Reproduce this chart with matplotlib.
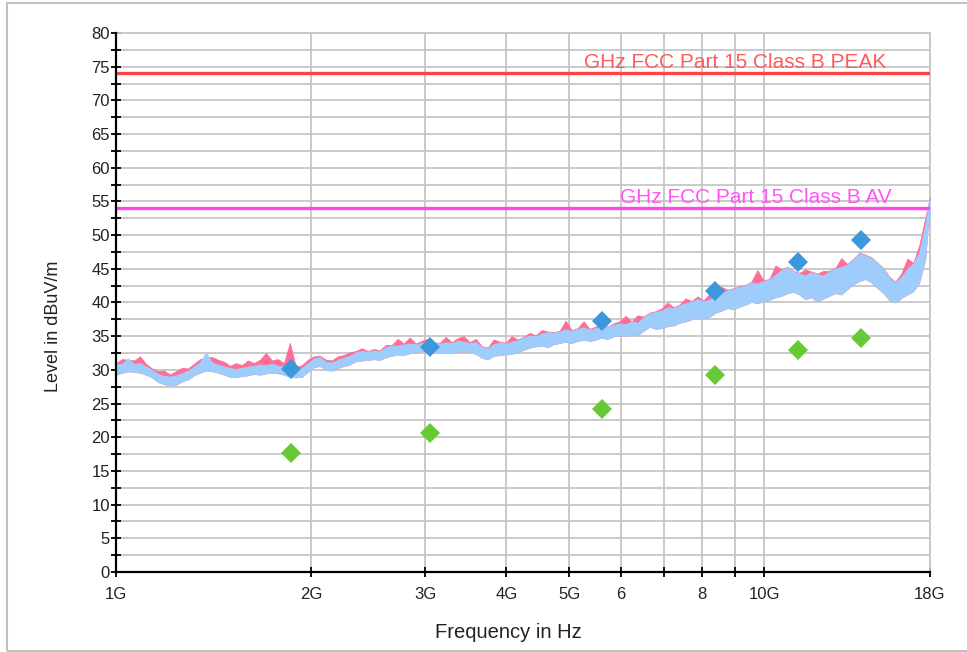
import matplotlib.pyplot as plt
import matplotlib.transforms as mtransforms
from matplotlib.patches import Rectangle
from matplotlib.ticker import MultipleLocator, NullLocator

plt.rcParams["font.family"] = ["Liberation Sans", "DejaVu Sans"]

# ===== Data =====
# Frequency points of the scan traces, in GHz
FREQ_GHZ = [
    1.000, 1.0215, 1.0435, 1.066, 1.089, 1.112, 1.136, 1.161, 1.186, 1.211,
    1.237, 1.264, 1.291, 1.319, 1.347, 1.376, 1.406, 1.436, 1.467, 1.499,
    1.531, 1.564, 1.597, 1.632, 1.667, 1.703, 1.739, 1.777, 1.815, 1.854,
    1.894, 1.935, 1.976, 2.019, 2.062, 2.107, 2.152, 2.198, 2.246, 2.294,
    2.343, 2.394, 2.445, 2.498, 2.551, 2.606, 2.662, 2.720, 2.778, 2.838,
    2.899, 2.961, 3.025, 3.090, 3.157, 3.225, 3.294, 3.365, 3.437, 3.511,
    3.587, 3.664, 3.743, 3.823, 3.906, 3.990, 4.075, 4.163, 4.253, 4.344,
    4.438, 4.533, 4.631, 4.730, 4.832, 4.936, 5.042, 5.151, 5.261, 5.375,
    5.490, 5.608, 5.729, 5.852, 5.978, 6.107, 6.238, 6.372, 6.509, 6.649,
    6.792, 6.938, 7.088, 7.240, 7.396, 7.555, 7.718, 7.884, 8.053, 8.226,
    8.403, 8.584, 8.769, 8.957, 9.150, 9.347, 9.548, 9.753, 9.963, 10.18,
    10.40, 10.62, 10.85, 11.08, 11.32, 11.56, 11.81, 12.07, 12.33, 12.59,
    12.86, 13.14, 13.42, 13.71, 14.01, 14.31, 14.62, 14.93, 15.25, 15.58,
    15.92, 16.26, 16.61, 16.97, 17.33, 17.70, 17.85, 18.0,
]
# Light blue trace: lower and upper edge of the noisy band, dBuV/m
BLUE_LOW = [
    29.3, 29.6, 29.8, 29.7, 29.6, 29.3, 28.9, 28.2, 27.9, 27.7,
    27.8, 28.3, 28.6, 29.2, 29.6, 29.9, 29.8, 29.6, 29.3, 29.0,
    28.9, 29.1, 29.2, 29.4, 29.3, 29.5, 29.6, 29.5, 29.3, 29.0,
    28.9, 29.0, 29.7, 30.4, 30.6, 30.0, 29.9, 30.3, 30.6, 30.8,
    31.3, 31.4, 31.5, 31.6, 31.5, 31.9, 32.1, 32.3, 32.2, 32.5,
    32.6, 32.8, 32.9, 32.7, 32.5, 32.6, 32.5, 32.7, 32.8, 32.6,
    32.4, 31.8, 31.6, 32.1, 32.2, 32.3, 32.4, 32.6, 33.0, 33.3,
    33.5, 33.6, 33.4, 33.8, 34.0, 34.2, 34.0, 34.3, 34.5, 34.3,
    34.5, 34.8, 34.6, 35.0, 35.1, 35.0, 35.3, 35.2, 35.8, 36.4,
    36.1, 36.2, 36.5, 36.6, 37.0, 37.2, 37.5, 37.8, 37.6, 37.9,
    38.5, 38.8, 39.2, 39.0, 39.4, 39.7, 40.1, 39.9, 40.2, 40.4,
    40.8, 41.0, 41.4, 41.6, 41.2, 40.5, 40.8, 40.2, 40.6, 41.0,
    41.4, 41.2, 42.0, 42.7, 43.2, 43.5, 43.0, 42.2, 41.4, 40.4,
    40.0, 40.7, 41.2, 41.7, 43.0, 46.5, 51.0, 53.2,
]
BLUE_HIGH = [
    30.8, 30.9, 31.7, 30.9, 31.0, 30.5, 30.0, 29.4, 29.1, 29.0,
    29.2, 29.5, 29.9, 30.5, 31.1, 32.6, 31.1, 30.8, 30.5, 30.3,
    30.1, 30.3, 30.5, 30.6, 30.8, 30.7, 30.9, 30.6, 30.5, 30.1,
    30.0, 30.3, 31.0, 31.7, 31.9, 31.2, 31.1, 31.5, 31.8, 32.1,
    32.6, 32.8, 32.7, 32.9, 32.8, 33.4, 33.6, 33.6, 33.8, 33.9,
    33.8, 34.0, 34.1, 34.0, 33.9, 34.1, 34.0, 34.3, 34.2, 34.0,
    34.1, 33.4, 33.2, 33.8, 34.1, 33.9, 34.2, 34.4, 34.8, 35.1,
    35.0, 35.4, 35.6, 35.5, 35.7, 36.0, 35.8, 36.1, 36.3, 36.0,
    36.2, 36.5, 36.4, 36.7, 36.9, 36.8, 37.2, 37.0, 37.8, 38.4,
    38.6, 38.8, 39.3, 39.2, 39.6, 39.9, 40.1, 40.5, 40.2, 40.4,
    41.0, 41.4, 41.8, 42.0, 42.3, 42.5, 43.0, 42.8, 43.2, 43.4,
    44.1, 44.8, 45.2, 44.6, 44.3, 44.0, 44.5, 44.2, 44.0, 44.6,
    45.0, 45.3, 45.6, 46.4, 47.3, 47.0, 46.6, 45.8, 45.0, 43.7,
    43.0, 43.8, 45.0, 45.8, 47.5, 51.5, 54.0, 55.3,
]
# Pink trace: upper edge (the part that shows above the blue band)
PINK_HIGH = [
    31.0, 31.6, 31.5, 31.4, 32.0, 30.9, 30.2, 29.8, 29.9, 29.3,
    29.8, 30.3, 30.2, 30.9, 31.6, 31.8, 31.9, 31.5, 31.2, 30.6,
    31.0, 30.7, 31.4, 31.0, 31.5, 32.5, 31.4, 31.6, 31.0, 34.0,
    30.4, 30.7, 31.5, 32.0, 32.1, 31.5, 31.4, 32.0, 32.2, 32.6,
    32.8, 33.2, 32.8, 33.1, 32.9, 33.7, 33.7, 34.6, 33.9, 34.8,
    33.9, 34.3, 34.6, 34.1, 34.0, 34.9, 34.1, 34.7, 35.0, 34.1,
    34.6, 33.5, 33.3, 34.5, 34.2, 34.0, 35.0, 34.5, 34.9, 35.5,
    35.1, 35.9, 35.7, 35.6, 35.8, 37.3, 35.9, 36.2, 37.2, 36.1,
    36.4, 37.1, 36.4, 36.9, 37.2, 38.0, 37.2, 38.1, 37.9, 38.5,
    38.7, 39.1, 40.0, 39.3, 39.7, 40.6, 40.2, 40.9, 40.3, 41.3,
    41.1, 42.3, 41.9, 42.1, 42.4, 42.6, 43.1, 44.8, 43.3, 43.5,
    45.5, 44.9, 45.3, 44.7, 44.4, 44.9, 44.6, 44.3, 44.7, 44.7,
    45.1, 46.6, 45.7, 46.5, 47.4, 47.1, 46.7, 45.9, 45.1, 43.8,
    43.1, 44.3, 46.5, 45.9, 48.5, 52.5, 54.2, 55.6,
]

# Final measurements (diamonds)
FINAL_FREQ_GHZ = [1.862, 3.05, 5.62, 8.39, 11.26, 14.08]
FINAL_PEAK = [30.2, 33.4, 37.3, 41.7, 46.0, 49.3]
FINAL_AV = [17.6, 20.7, 24.2, 29.2, 33.0, 34.7]

# Limit lines
LIMIT_PEAK = 74
LIMIT_AV = 54
LIMIT_PEAK_LABEL = "GHz FCC Part 15 Class B PEAK"
LIMIT_AV_LABEL = "GHz FCC Part 15 Class B AV"

# Axis ticks
X_TICKS = [1, 2, 3, 4, 5, 6, 7, 8, 9, 10, 18]
X_TICK_LABELS = ["1G", "2G", "3G", "4G", "5G", "6", "", "8", "", "10G", "18G"]

GRID_COLOR = "#c6c6c6"

fig = plt.figure(figsize=(9.67, 6.52), dpi=100)
ax = fig.add_axes([0.12, 0.1227, 0.8417, 0.8267])

# Scan traces
ax.fill_between(FREQ_GHZ, BLUE_LOW, PINK_HIGH, color="#ff6e98", lw=0.6, zorder=3)
ax.fill_between(FREQ_GHZ, BLUE_LOW, BLUE_HIGH, color="#9ecdfb", lw=0.6, zorder=4)

# Limit lines and labels
ax.axhline(LIMIT_PEAK, color="#ff4444", lw=2.4, zorder=5)
ax.axhline(LIMIT_AV, color="#ff44f0", lw=2.4, zorder=5)
trans = mtransforms.blended_transform_factory(ax.transAxes, ax.transData)
ax.text(0.947, 74.75, LIMIT_PEAK_LABEL, transform=trans, ha="right",
        va="baseline", fontsize=15, color="#ff5a5a", zorder=6)
ax.text(0.953, 54.8, LIMIT_AV_LABEL, transform=trans, ha="right",
        va="baseline", fontsize=15, color="#ff55f5", zorder=6)

# Final measurement markers
ax.plot(FINAL_FREQ_GHZ, FINAL_PEAK, "D", color="#3d97dc", ms=10, mew=0, zorder=7)
ax.plot(FINAL_FREQ_GHZ, FINAL_AV, "D", color="#66c935", ms=10, mew=0, zorder=7)

# Axes setup
ax.set_xscale("log")
ax.set_xlim(1, 18)
ax.set_ylim(0, 80)
ax.set_xticks(X_TICKS)
ax.set_xticklabels(X_TICK_LABELS)
ax.xaxis.set_minor_locator(NullLocator())
ax.yaxis.set_major_locator(MultipleLocator(5))
ax.yaxis.set_minor_locator(MultipleLocator(2.5))

ax.grid(which="both", color=GRID_COLOR, lw=1.3, zorder=0)
ax.set_axisbelow(True)

ax.tick_params(which="both", direction="inout", length=7, width=1.3,
               color="black", labelsize=12, labelcolor="#222222")
ax.tick_params(axis="y", pad=1)
ax.tick_params(axis="x", pad=7)

for side in ["left", "bottom"]:
    ax.spines[side].set_color("black")
    ax.spines[side].set_linewidth(1.6)
    ax.spines[side].set_zorder(8)
for side in ["top", "right"]:
    ax.spines[side].set_color(GRID_COLOR)
    ax.spines[side].set_linewidth(1.3)

ax.set_xlabel("Frequency in Hz", fontsize=14.5, color="#222222")
ax.xaxis.set_label_coords(0.4816, -0.095)
ax.set_ylabel("Level in dBuV/m", fontsize=13, color="#222222")
ax.yaxis.set_label_coords(-0.066, 0.455)

# Light frame around the whole picture
frame = Rectangle((0.0072, 0.0015), 1.0, 0.994, transform=fig.transFigure,
                  fill=False, edgecolor="#c0c0c0", lw=1.5)
fig.patches.append(frame)

fig.savefig("out.png", dpi=100)
